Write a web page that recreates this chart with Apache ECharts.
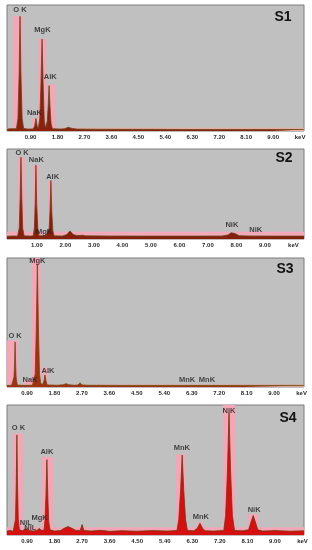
<!DOCTYPE html>
<html><head><meta charset="utf-8">
<script src="https://cdn.jsdelivr.net/npm/echarts@6/dist/echarts.min.js"></script>
<style>html,body{margin:0;padding:0;background:#fff}#c{width:312px;height:550px}</style>
</head><body><div id="c"></div>
<script>
// ---------- data (keV, relative counts %) ----------
const panelNames = ['S1', 'S2', 'S3', 'S4'];
const xMin = [0.115, -0.05, 0.245, 0.247];
const xMax = [10.03, 10.37, 9.98, 9.95];

const ticks09 = [0.9, 1.8, 2.7, 3.6, 4.5, 5.4, 6.3, 7.2, 8.1, 9.0, 9.9];
const ticks10 = [1, 2, 3, 4, 5, 6, 7, 8, 9, 10];

const s1Spectrum = [[0.12,1.5],[0.25,1.8],[0.3,2.6],[0.35,1.8],[0.43,1.8],[0.48,10],[0.52,45],[0.55,91],[0.58,45],[0.62,10],[0.67,2],[0.8,1.5],
  [0.99,1.6],[1.04,4],[1.08,10],[1.12,4],[1.16,2],[1.21,10],[1.25,38],[1.285,73],[1.32,38],[1.36,8],[1.4,2.5],
  [1.42,2.5],[1.46,8],[1.49,20],[1.52,36],[1.55,20],[1.585,6],[1.63,1.8],[1.9,1.5],[2.05,1.8],[2.15,3],[2.2,3.2],[2.3,2],[2.45,1.5],
  [3,1.4],[4,1.3],[5,1.3],[6,1.2],[7,1.2],[8,1.2],[9,1.2],[10.03,1.2]];
const s2Spectrum = [[-0.05,3],[0.1,3.3],[0.16,4.5],[0.22,3.3],[0.32,3.2],[0.34,3.5],[0.38,12],[0.41,45],[0.44,91],[0.47,45],[0.5,12],[0.55,3.5],[0.75,3.2],
  [0.87,3.5],[0.91,12],[0.94,40],[0.965,82],[0.99,40],[1.03,12],[1.07,3.6],[1.18,3.5],[1.25,5],[1.32,3.6],
  [1.39,3.6],[1.43,12],[1.46,32],[1.49,65],[1.52,32],[1.555,10],[1.6,3.5],[1.9,3.3],[2.05,5],[2.16,9],[2.27,5],[2.4,3.8],[2.6,4.2],[2.7,3.5],
  [3.5,3.3],[5,3.2],[6.5,3.2],[7.5,3.3],[7.7,4.5],[7.82,7],[7.88,8],[7.95,6],[8.1,3.6],[8.5,3.3],[9.5,3.2],[10.37,3.2]];
const s3Spectrum = [[0.245,1.2],[0.4,1.3],[0.45,1.5],[0.475,8],[0.495,20],[0.51,35],[0.525,20],[0.545,7],[0.58,1.5],[0.8,1.2],[0.98,1.3],[1.03,2.8],[1.08,1.4],
  [1.13,1.5],[1.17,10],[1.205,45],[1.24,95],[1.275,45],[1.31,10],[1.35,2.5],[1.42,2.2],[1.46,5],[1.49,9.3],[1.52,5],[1.56,1.6],
  [1.9,1.3],[2.1,1.8],[2.18,2.6],[2.26,1.8],[2.45,1.3],[2.58,1.6],[2.64,3.2],[2.7,1.6],[2.9,1.3],[4,1.2],[5,1.2],[6,1.2],[7,1.2],[8,1.2],[9.98,1.2]];
const s4Spectrum = [[0.247,3],[0.35,3.5],[0.45,2.8],[0.5,3.5],[0.525,12],[0.55,40],[0.57,77],[0.59,40],[0.615,12],[0.65,4],
  [0.75,3.2],[0.86,5],[0.95,3.5],[1.01,4.5],[1.1,3],[1.22,3.5],[1.3,5],[1.38,3.5],
  [1.46,4],[1.49,12],[1.52,30],[1.55,58],[1.58,30],[1.61,10],[1.65,4],
  [1.8,3],[2.0,3.5],[2.1,5],[2.24,6.5],[2.38,5],[2.5,3.5],[2.64,3.5],[2.7,8],[2.76,3.5],[3.0,3],[3.3,3.6],[3.6,2.8],[4.0,3.3],[4.5,2.9],[5.0,3.4],[5.5,3],
  [5.8,3.5],[5.86,12],[5.92,35],[5.97,61.5],[6.02,35],[6.08,12],[6.14,3.5],[6.35,3.2],[6.46,5],[6.55,9],[6.64,5],[6.72,3.2],[7.0,3],
  [7.33,3.5],[7.39,15],[7.45,50],[7.5,94],[7.55,50],[7.61,15],[7.68,3.5],[7.95,3.2],[8.14,4],[8.22,10],[8.29,15],[8.36,10],[8.44,4],[8.6,3],[9.0,3.4],[9.5,2.9],[9.95,3.2]];

// pink regions of interest [keV from, keV to, top %]
const s1Roi = [[0.32,0.65,91],[0.95,1.16,10],[1.15,1.42,73],[1.45,1.72,37]];
const s2Roi = [[0.33,0.58,91],[0.86,1.07,82],[1.39,1.56,65]];
const s3Roi = [[0.245,0.6,36],[0.83,1.1,6],[1.06,1.35,100],[1.42,1.57,15]];
const s4Roi = [[0.44,0.77,78],[1.38,1.75,60],[5.77,6.07,62],[6.45,6.65,10],[7.31,7.7,100],[8.11,8.45,16]];
// baseline band height %
const baseBand = [2.5, 8, 2, 6];

const s1LabelNames = ['O K','MgK','AlK','NaK'];
const s1LabelPos = [[0.55,96],[1.3,80],[1.56,43],[1.03,14]];
const s2LabelNames = ['O K','NaK','AlK','MgK','NiK','NiK'];
const s2LabelPos = [[0.48,96],[0.98,88],[1.55,69],[1.25,8],[7.84,15.5],[8.68,10]];
const s3LabelNames = ['MgK','O K','AlK','NaK','MnK','MnK'];
const s3LabelPos = [[1.24,98],[0.51,39.5],[1.59,12.4],[1.0,5.4],[6.15,5.4],[6.8,5.4]];
const s4LabelNames = ['O K','AlK','MgK','NiL','NiL','MnK','MnK','NiK','NiK'];
const s4LabelPos = [[0.62,82],[1.55,63.6],[1.31,13.3],[0.86,9.5],[1.01,5.6],[5.96,67],[6.58,13.8],[7.5,95.6],[8.32,19]];

// ---------- layout / style ----------
const spectra = [s1Spectrum, s2Spectrum, s3Spectrum, s4Spectrum];
const rois = [s1Roi, s2Roi, s3Roi, s4Roi];
const labelNames = [s1LabelNames, s2LabelNames, s3LabelNames, s4LabelNames];
const labelPos = [s1LabelPos, s2LabelPos, s3LabelPos, s4LabelPos];
const tickSets = [ticks09, ticks10, ticks09, ticks09];
const gridTop = [5, 149, 258, 405];
const gridH = [126, 90, 129, 130];
const fillCol = ['#8f1f0d', '#871f0d', '#a3300f', '#d61010'];
const edgeCol = ['#5e4a1c', '#5e4a1c', '#6a4a18', '#6b3a10'];
const bandCol = ['#e9aea4', '#f4a9ba', '#deaa9e', '#f4a6b7'];
const FONT = 'Liberation Sans, Arial, sans-serif';

const chart = echarts.init(document.getElementById('c'), null, {renderer: 'canvas'});
const grid = [], xAxis = [], yAxis = [], series = [], graphic = [];
for (let i = 0; i < 4; i++) {
  grid.push({left: 7, right: 8, top: gridTop[i], height: gridH[i], show: true,
    backgroundColor: '#c0c0c0', borderColor: '#7c7c7c', borderWidth: 1});
  const tk = tickSets[i];
  const last = tk[tk.length - 1];
  xAxis.push({type: 'value', gridIndex: i, min: xMin[i], max: xMax[i],
    axisLine: {show: false}, axisTick: {show: false}, splitLine: {show: false},
    axisLabel: {show: true, customValues: tk, margin: 3, fontSize: 6, fontWeight: 'bold',
      color: '#2a2a2a', fontFamily: FONT,
      formatter: v => (Math.abs(v - last) < 1e-6 ? 'keV' : v.toFixed(2))}});
  yAxis.push({type: 'value', gridIndex: i, min: 0, max: 100, show: false});
  // pink ROI rectangles + baseline band
  const roiData = rois[i].concat([[xMin[i], xMax[i], baseBand[i]]]);
  series.push({type: 'custom', xAxisIndex: i, yAxisIndex: i, z: 1, clip: true,
    data: roiData, encode: {x: [0, 1], y: 2},
    renderItem: (params, api) => {
      const p0 = api.coord([api.value(0), api.value(2)]);
      const p1 = api.coord([api.value(1), 0]);
      const isBand = params.dataIndex === roiData.length - 1;
      return {type: 'rect', shape: {x: p0[0], y: p0[1], width: p1[0] - p0[0], height: p1[1] - p0[1]},
        style: {fill: isBand ? bandCol[i] : '#f4a6b7'}};
    }});
  series.push({type: 'line', xAxisIndex: i, yAxisIndex: i, z: 3, data: spectra[i],
    showSymbol: false, symbol: 'none', smooth: false, clip: true,
    lineStyle: {color: edgeCol[i], width: 0.8},
    areaStyle: {color: fillCol[i], opacity: 1}});
  series.push({type: 'scatter', xAxisIndex: i, yAxisIndex: i, z: 5, symbolSize: 0,
    data: labelNames[i].map((n, k) => ({name: n, value: labelPos[i][k]})),
    label: {show: true, position: 'inside', formatter: '{b}', fontSize: 7.5, fontWeight: 'bold',
      color: '#1e1e1e', fontFamily: FONT}});
}
const sPos = [[283, 17], [284, 158], [285, 269], [288, 418]];
for (let i = 0; i < 4; i++) {
  graphic.push({type: 'text', x: sPos[i][0], y: sPos[i][1], z: 10,
    style: {text: panelNames[i], fontSize: 14, fontWeight: 'bold', fill: '#111', fontFamily: FONT,
      align: 'center', verticalAlign: 'middle'}});
}
chart.setOption({animation: false, backgroundColor: '#ffffff', grid, xAxis, yAxis, series, graphic});
</script></body></html>
